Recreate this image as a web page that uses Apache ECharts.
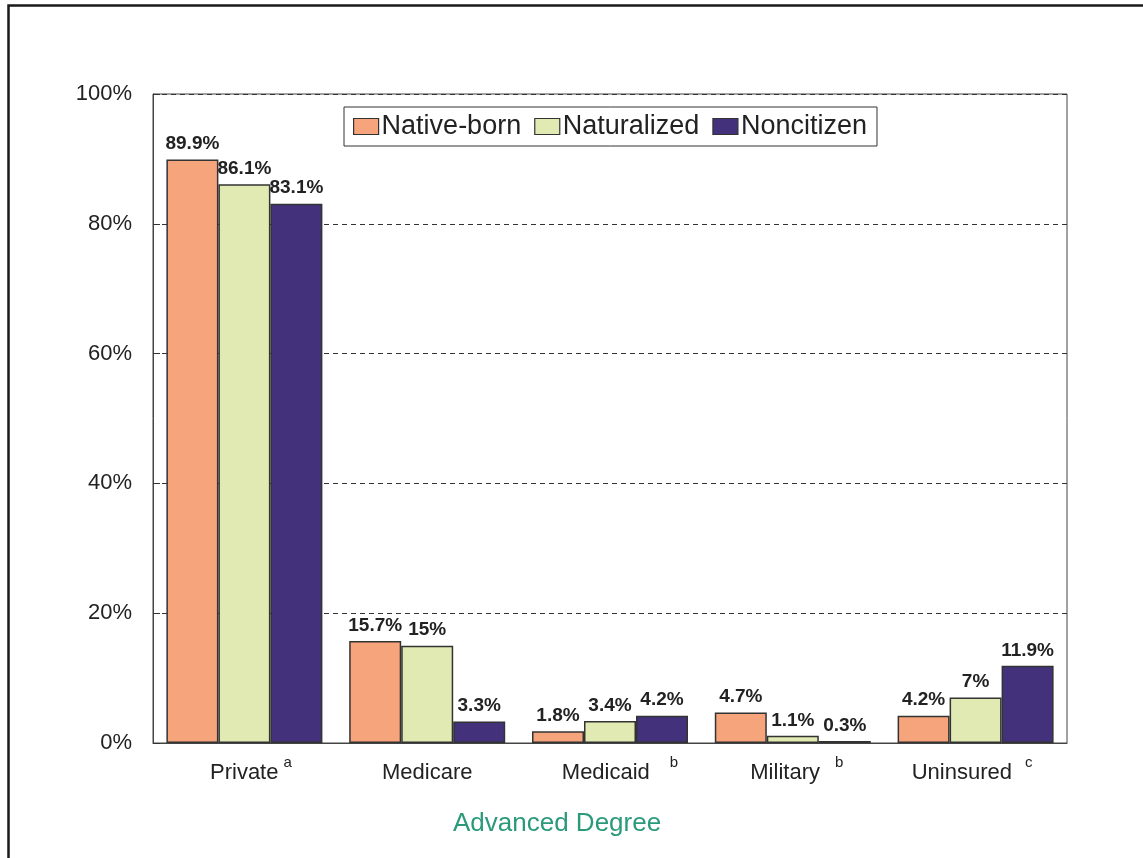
<!DOCTYPE html>
<html>
<head>
<meta charset="utf-8">
<style>
  html, body { margin: 0; padding: 0; background: #ffffff; }
  #chart { width: 1143px; height: 858px; }
</style>
<script src="https://cdn.jsdelivr.net/npm/echarts@6/dist/echarts.min.js"></script>
</head>
<body>
<div id="chart"></div>
<script>
// Coverage categories and their footnote marks
const categories = ['Private', 'Medicare', 'Medicaid', 'Military', 'Uninsured'];
const footnotes = ['a', '', 'b', 'b', 'c'];

// Share of adults with an advanced degree, by coverage type (%)
const nativeBorn = [89.9, 15.7, 1.8, 4.7, 4.2];
const naturalized = [86.1, 15, 3.4, 1.1, 7];
const noncitizen = [83.1, 3.3, 4.2, 0.3, 11.9];

const seriesNames = ['Native-born', 'Naturalized', 'Noncitizen'];
const yTicks = [0, 20, 40, 60, 80, 100];

const FONT = 'Liberation Sans';
const colors = ['#F6A47B', '#E0EAB2', '#43327B'];

// spacing around each footnote mark: [lead, gap before mark, trail]
const noteSpacing = [[13, 5, 0], [0, 0, 0], [20, 20, 0], [8, 15, 0], [0, 13, 7]];

const chart = echarts.init(document.getElementById('chart'), null, { renderer: 'canvas' });

function barSeries(name, data, color) {
  return {
    name: name,
    type: 'bar',
    data: data,
    barWidth: 52,
    barGap: '0%',
    itemStyle: { color: color, borderColor: '#333333', borderWidth: 1.5 },
    label: {
      show: true,
      position: 'top',
      distance: 6,
      formatter: '{c}%',
      fontFamily: FONT,
      fontWeight: 'bold',
      fontSize: 19,
      color: '#222222'
    },
    emphasis: { disabled: true }
  };
}

chart.setOption({
  animation: false,
  backgroundColor: '#ffffff',
  textStyle: { fontFamily: FONT },
  title: {
    text: 'Advanced Degree',
    left: 449,
    top: 809,
    padding: [2, 4],
    textStyle: { fontFamily: FONT, fontSize: 26, fontWeight: 'normal', color: '#2A9A7A' }
  },
  grid: {
    left: 153,
    top: 94,
    right: 76,
    bottom: 115,
    show: true,
    borderColor: '#444444',
    borderWidth: 1,
    containLabel: false
  },
  legend: {
    data: seriesNames,
    left: 344,
    top: 107,
    orient: 'horizontal',
    icon: 'rect',
    itemWidth: 25,
    itemHeight: 16,
    itemGap: 13,
    padding: [6, 10, 6, 9],
    borderColor: '#333333',
    borderWidth: 1,
    backgroundColor: '#ffffff',
    selectedMode: false,
    itemStyle: { borderColor: '#333333', borderWidth: 1.2 },
    textStyle: { fontFamily: FONT, fontSize: 27, color: '#222222', padding: [0, 0, 0, -2] }
  },
  xAxis: {
    type: 'category',
    data: categories,
    axisLine: { show: true, lineStyle: { color: '#444444', width: 1 } },
    axisTick: { show: false },
    axisLabel: {
      margin: 12,
      interval: 0,
      formatter: function (value, idx) {
        const note = footnotes[idx];
        if (!note) return '{w|' + value + '}';
        return '{p' + idx + '|}{w|' + value + '}{g' + idx + '|}{s|' + note + '}{t' + idx + '|}';
      },
      rich: (function () {
        const r = {
          w: { fontFamily: FONT, fontSize: 22, color: '#222222', lineHeight: 36 },
          s: { fontFamily: FONT, fontSize: 15, color: '#222222', lineHeight: 15, verticalAlign: 'top' }
        };
        noteSpacing.forEach(function (sp, i) {
          r['p' + i] = { width: sp[0] };
          r['g' + i] = { width: sp[1] };
          r['t' + i] = { width: sp[2] };
        });
        return r;
      })()
    }
  },
  yAxis: {
    type: 'value',
    min: yTicks[0],
    max: yTicks[yTicks.length - 1],
    interval: 20,
    axisLine: { show: true, lineStyle: { color: '#444444', width: 1 } },
    axisTick: { show: true, inside: true, length: 7, lineStyle: { color: '#333333' } },
    axisLabel: {
      margin: 21,
      formatter: '{value}%',
      fontFamily: FONT,
      fontSize: 22,
      color: '#222222',
      padding: [8, 0, 0, 0]
    },
    splitLine: {
      show: true,
      lineStyle: { color: '#333333', type: [5, 4], width: 1 }
    }
  },
  series: [
    barSeries(seriesNames[0], nativeBorn, colors[0]),
    barSeries(seriesNames[1], naturalized, colors[1]),
    barSeries(seriesNames[2], noncitizen, colors[2])
  ],
  graphic: [
    {
      type: 'rect',
      left: 6,
      top: 3,
      shape: { x: 0, y: 0, width: 1160, height: 880 },
      style: { fill: 'none', stroke: '#1a1a1a', lineWidth: 2.5 },
      silent: true,
      z: 100
    }
  ]
});
</script>
</body>
</html>
